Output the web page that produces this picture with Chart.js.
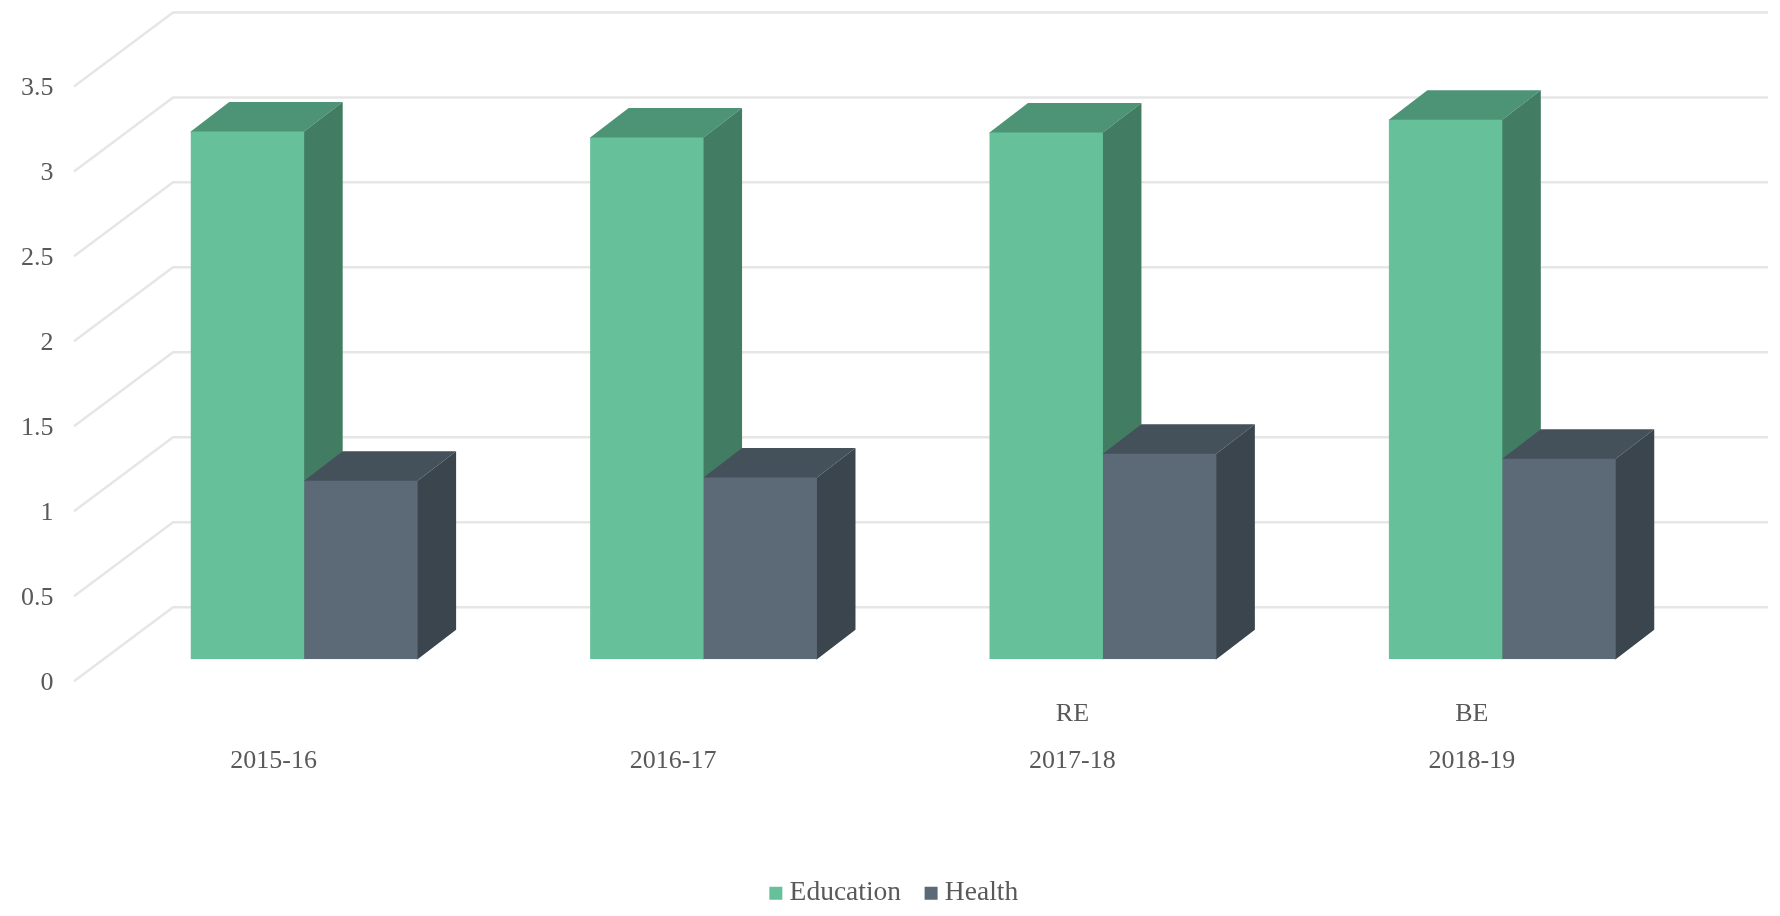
<!DOCTYPE html>
<html>
<head>
<meta charset="utf-8">
<script src="https://cdn.jsdelivr.net/npm/chart.js@4/dist/chart.umd.js"></script>
<style>
html,body{margin:0;padding:0;background:#fff;}
canvas{display:block;}
</style>
</head>
<body>
<canvas id="c" width="1780" height="916"></canvas>
<script>
const categories = [['', '2015-16'], ['', '2016-17'], ['RE', '2017-18'], ['BE', '2018-19']];
const education = [3.105, 3.07, 3.10, 3.175];
const health = [1.05, 1.07, 1.21, 1.18];

const FONT = '"Liberation Serif", serif';
const TEXT = '#595959';
const GRID = '#e6e6e6';

// Extrusion of every bar, and of the floor, in canvas pixels
const BAR_DX = 38.5, BAR_DY = -29.5;
const SEAM = 1;
const FLOOR_X0 = 74, FLOOR_X1 = 173, WALL_X1 = 1768;
const FLOOR_FRONT = 22, FLOOR_BACK = -52;

const faces = [
  { top: '#4c9475', side: '#417c63' },
  { top: '#44515b', side: '#3a454e' }
];

const perspective = {
  id: 'perspective',
  // The value axis labels sit left of the padded layout box, so widen the axis to reach them
  afterLayout(chart) {
    chart.scales.y.left = 0;
  },
  beforeDatasetsDraw(chart) {
    const ctx = chart.ctx;
    const y = chart.scales.y;
    ctx.save();

    // Side wall and back wall grid lines, one polyline per tick
    ctx.strokeStyle = GRID;
    ctx.lineWidth = 2.5;
    y.ticks.forEach(t => {
      const p = y.getPixelForValue(t.value);
      ctx.beginPath();
      ctx.moveTo(FLOOR_X0, p + FLOOR_FRONT);
      ctx.lineTo(FLOOR_X1, p + FLOOR_BACK);
      ctx.lineTo(WALL_X1, p + FLOOR_BACK);
      ctx.stroke();
    });

    // Top and side faces, tucked slightly under the library's own front faces
    chart.data.datasets.forEach((ds, i) => {
      chart.getDatasetMeta(i).data.forEach(el => {
        const l = el.x - el.width / 2, r = el.x + el.width / 2;
        ctx.fillStyle = faces[i].top;
        ctx.beginPath();
        ctx.moveTo(l, el.y + SEAM);
        ctx.lineTo(l, el.y);
        ctx.lineTo(l + BAR_DX, el.y + BAR_DY);
        ctx.lineTo(r + BAR_DX, el.y + BAR_DY);
        ctx.lineTo(r, el.y);
        ctx.lineTo(r, el.y + SEAM);
        ctx.closePath();
        ctx.fill();
        ctx.fillStyle = faces[i].side;
        ctx.beginPath();
        ctx.moveTo(r - SEAM, el.y);
        ctx.lineTo(r, el.y);
        ctx.lineTo(r + BAR_DX, el.y + BAR_DY);
        ctx.lineTo(r + BAR_DX, el.base + BAR_DY);
        ctx.lineTo(r, el.base);
        ctx.lineTo(r - SEAM, el.base);
        ctx.closePath();
        ctx.fill();
      });
    });
    ctx.restore();
  }
};

new Chart(document.getElementById('c'), {
  type: 'bar',
  data: {
    labels: categories,
    datasets: [
      { label: 'Education', data: education, backgroundColor: '#66c19b' },
      { label: 'Health', data: health, backgroundColor: '#5c6a77' }
    ]
  },
  options: {
    responsive: false,
    animation: false,
    categoryPercentage: 0.568,
    barPercentage: 1,
    layout: { padding: { top: 64.4, right: 78, left: 92, bottom: -1 } },
    scales: {
      x: {
        grid: { display: false },
        border: { display: false },
        afterFit(s) { s.height = 190.2; },
        ticks: {
          autoSkip: false,
          maxRotation: 0,
          padding: 23,
          labelOffset: -30.5,
          color: TEXT,
          font: { family: FONT, size: 26, lineHeight: 1.83 }
        }
      },
      y: {
        min: 0,
        max: 3.5,
        grid: { display: false },
        border: { display: false },
        afterFit(s) { s.width = 12.5; },
        ticks: {
          stepSize: 0.5,
          padding: 43,
          labelOffset: 24,
          color: TEXT,
          font: { family: FONT, size: 26 },
          callback: v => String(v)
        }
      }
    },
    plugins: {
      tooltip: { enabled: false },
      legend: {
        position: 'bottom',
        labels: {
          usePointStyle: true,
          pointStyle: 'rect',
          boxWidth: 0.01,
          boxHeight: 13,
          padding: 30,
          color: TEXT,
          font: { family: FONT, size: 27.5 }
        }
      }
    }
  },
  plugins: [perspective]
});
</script>
</body>
</html>
